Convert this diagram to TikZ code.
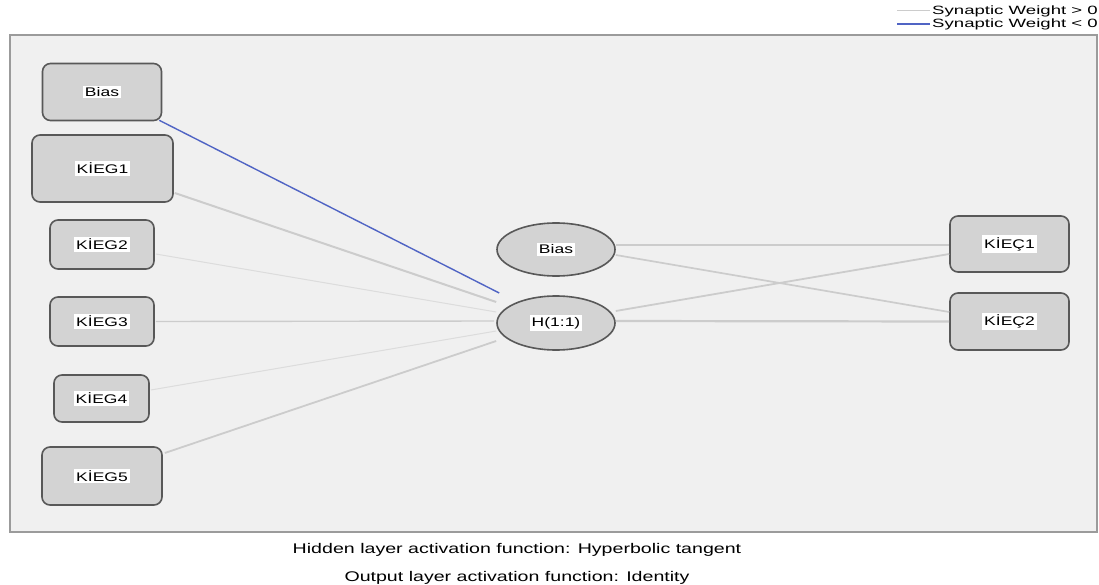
\documentclass[tikz,border=0pt]{standalone}
\usepackage{fontspec}
\setmainfont[FakeStretch=1.4]{Liberation Sans}
\newfontfamily\legfont[FakeStretch=1.55]{Liberation Sans}
\usetikzlibrary{calc,shapes.geometric}
\definecolor{framebg}{RGB}{240,240,240}
\definecolor{framedraw}{RGB}{155,155,155}
\definecolor{nodefill}{RGB}{211,211,211}
\definecolor{nodedraw}{RGB}{88,88,88}
\definecolor{posw}{RGB}{204,204,204}
\definecolor{posl}{RGB}{220,220,220}
\definecolor{negw}{RGB}{80,100,196}
\newcommand{\lab}[1]{{\setlength{\fboxsep}{1.8pt}\colorbox{white}{#1}}}
\begin{document}
\begin{tikzpicture}[x=1pt,y=-1pt,
  box/.style={draw=nodedraw, fill=nodefill, line width=1.6pt, rounded corners=8pt, inner sep=0pt, font=\fontsize{12.5}{13}\selectfont},
  ell/.style={ellipse, draw=nodedraw, fill=nodefill, line width=1.6pt, inner sep=0pt, font=\fontsize{12.5}{13}\selectfont},
  pos/.style={draw=posw, line width=#1},
  posthin/.style={draw=posl, line width=1pt},
  neg/.style={draw=negw, line width=1.4pt},
  legtext/.style={anchor=east, inner sep=0pt, font=\legfont\fontsize{12}{13}\selectfont},
  captext/.style={anchor=base, inner sep=0pt, font=\fontsize{14}{16}\selectfont}]
\useasboundingbox (0,0) rectangle (1099,585);
\fill[white] (0,0) rectangle (1099,585);
\draw[fill=framebg, draw=framedraw, line width=2pt] (10,35) rectangle (1097,532);

% legend
\node[legtext] (leg1) at (1098,11) {Synaptic Weight > 0};
\node[legtext] (leg2) at (1098,24) {Synaptic Weight < 0};
\coordinate (l1) at (897,11);
\coordinate (l2) at (897,24);
\draw[draw=posw, line width=1pt] (l1) -- ([xshift=-2pt]leg1.west);
\draw[neg] (l2) -- ([xshift=-2pt]leg2.west);

% input layer
\node[box, minimum width=119pt, minimum height=57pt] (ib) at (102,92) {\lab{Bias}};
\node[box, minimum width=141pt, minimum height=67pt] (k1) at (102.5,168.5) {\lab{KİEG1}};
\node[box, minimum width=104pt, minimum height=49pt] (k2) at (102,244.5) {\lab{KİEG2}};
\node[box, minimum width=104pt, minimum height=49pt] (k3) at (102,321.5) {\lab{KİEG3}};
\node[box, minimum width=95pt, minimum height=47pt] (k4) at (101.5,398.5) {\lab{KİEG4}};
\node[box, minimum width=120pt, minimum height=58pt] (k5) at (102,476) {\lab{KİEG5}};

% hidden layer
\node[ell, minimum width=118pt, minimum height=53pt] (hb) at (556,249.5) {\lab{Bias}};
\node[ell, minimum width=118pt, minimum height=54pt] (h) at (556,323) {\lab{H(1:1)}};

% output layer
\node[box, minimum width=119pt, minimum height=56pt] (o1) at (1009.5,244) {\lab{KİEÇ1}};
\node[box, minimum width=119pt, minimum height=57pt] (o2) at (1009.5,321.5) {\lab{KİEÇ2}};

% input -> hidden
\draw[neg] ([xshift=-3pt,yshift=1pt]ib.south east) -- ([xshift=3pt,yshift=30pt]h.west);
\draw[pos=2pt] ([xshift=1pt,yshift=-24.5pt]k1.east) -- ([yshift=21pt]h.west);
\draw[posthin] ([xshift=1pt,yshift=-9.5pt]k2.east) -- ([yshift=11pt]h.west);
\draw[pos=1.4pt] ([xshift=1pt]k3.east) -- ([xshift=-2pt,yshift=2pt]h.west);
\draw[posthin] ([xshift=1pt,yshift=8.5pt]k4.east) -- ([yshift=-8pt]h.west);
\draw[pos=1.8pt] ([xshift=2pt,yshift=23pt]k5.east) -- ([yshift=-18pt]h.west);

% hidden -> output
\draw[pos=1.4pt] ([yshift=4.5pt]hb.east) -- ([yshift=-1pt]o1.west);
\draw[pos=1.7pt] ([yshift=-5.5pt]hb.east) -- ([yshift=9.5pt]o2.west);
\draw[pos=1.8pt] ([yshift=12pt]h.east) -- ([yshift=-10pt]o1.west);
\draw[pos=2.2pt] ([yshift=2pt]h.east) -- ([yshift=0pt]o2.west);

% captions
\node[captext] (cap1) at (517,553) {Hidden layer activation function: Hyperbolic tangent};
\node[captext] (cap2) at (517,581) {Output layer activation function: Identity};
\end{tikzpicture}
\end{document}
